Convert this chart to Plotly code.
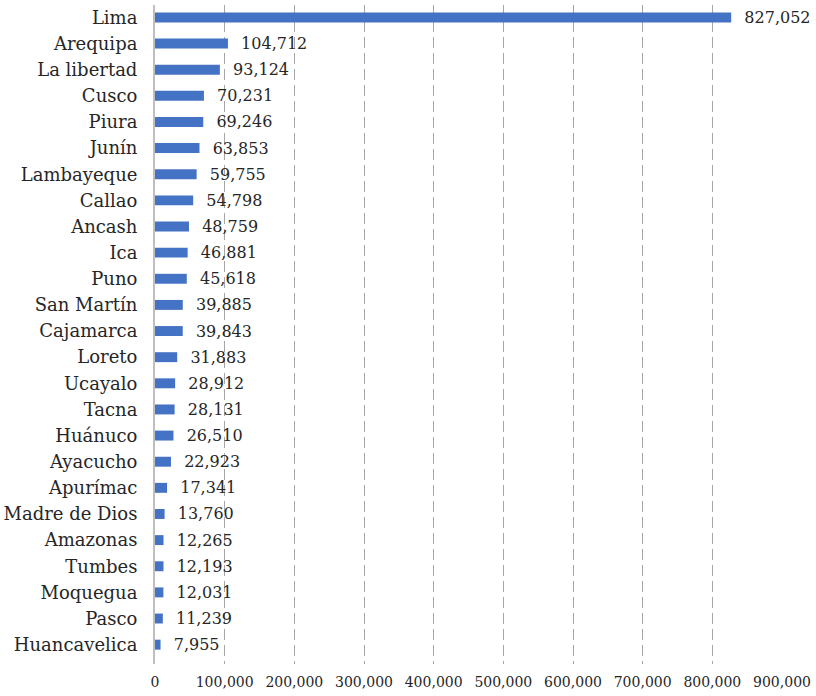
import plotly.graph_objects as go

regions = ["Lima", "Arequipa", "La libertad", "Cusco", "Piura", "Junín", "Lambayeque",
           "Callao", "Ancash", "Ica", "Puno", "San Martín", "Cajamarca", "Loreto",
           "Ucayalo", "Tacna", "Huánuco", "Ayacucho", "Apurímac", "Madre de Dios",
           "Amazonas", "Tumbes", "Moquegua", "Pasco", "Huancavelica"]
values = [827052, 104712, 93124, 70231, 69246, 63853, 59755, 54798, 48759, 46881,
          45618, 39885, 39843, 31883, 28912, 28131, 26510, 22923, 17341, 13760,
          12265, 12193, 12031, 11239, 7955]
x_ticks = [0, 100000, 200000, 300000, 400000, 500000, 600000, 700000, 800000, 900000]

font_family = "DejaVu Serif"

fig = go.Figure(go.Bar(
    x=values, y=regions, orientation="h",
    marker=dict(color="#4472C4", line=dict(width=0)),
    text=values, texttemplate="\u00a0\u00a0%{x:,}", textposition="outside",
    constraintext="none",
    textfont=dict(family=font_family, size=16, color="#262626"),
    cliponaxis=False,
    hoverinfo="skip",
))

fig.update_layout(
    width=816, height=696,
    margin=dict(l=155, r=34, t=5, b=32),
    paper_bgcolor="white", plot_bgcolor="white",
    bargap=0.62,
    showlegend=False,
    font=dict(family=font_family, color="#262626"),
)
fig.update_xaxes(
    range=[0, 900000], tickvals=x_ticks, tickformat=",",
    showgrid=True, gridcolor="#A6A6A6", griddash="11px,5px", gridwidth=1,
    zeroline=False, showline=False, ticks="", ticklabelstandoff=8,
    tickfont=dict(family=font_family, size=14, color="#262626"),
    automargin=False,
)
fig.update_yaxes(
    categoryorder="array", categoryarray=regions,
    autorange=False, range=[24.74, -0.475],
    showgrid=False, zeroline=False, showline=True, linecolor="#BFBFBF", linewidth=2,
    ticks="", ticklabelstandoff=12,
    tickfont=dict(family=font_family, size=18, color="#262626"),
    automargin=False,
)

fig.write_html("out.html", config={"displayModeBar": False, "staticPlot": True},
               post_script="document.body.style.margin='0';document.body.style.padding='0';")
